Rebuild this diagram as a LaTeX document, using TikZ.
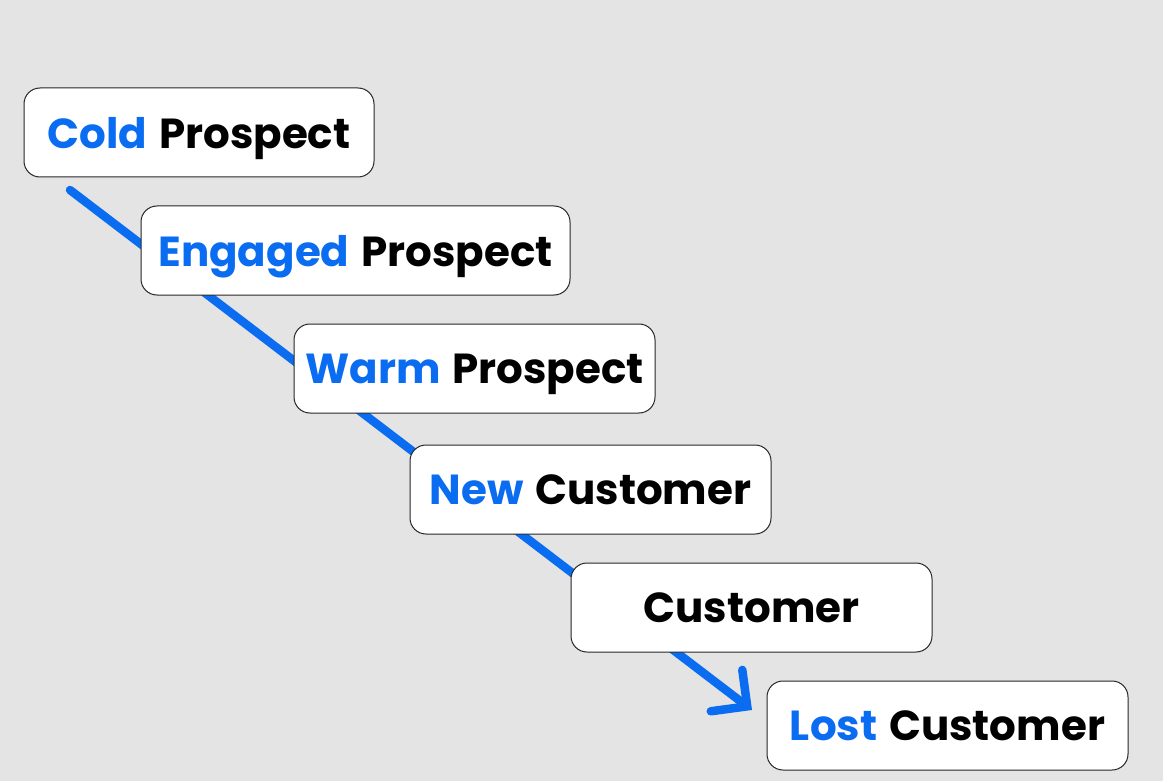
\documentclass[tikz,border=0pt]{standalone}
\usepackage{fontspec}
\setmainfont{Poppins}
\usetikzlibrary{arrows.meta}
\definecolor{bg}{HTML}{E4E4E4}
\definecolor{blu}{HTML}{0A6CF0}
\begin{document}
\begin{tikzpicture}[x=1pt,y=-1pt,
  box/.style={draw=black!85,line width=1pt,fill=white,rounded corners=16pt,minimum width=360pt,minimum height=89pt,inner sep=0pt,text depth=0pt,font=\fontsize{42}{44}\selectfont\bfseries}]
\fill[bg] (0,0) rectangle (1163,781);
\useasboundingbox (0,0) rectangle (1163,781);
\coordinate (s) at (70,190);
\coordinate (e) at (752,710);
\draw[blu,line width=8.5pt,line cap=round,-{Straight Barb[length=26pt,width=52pt,line cap=round]}] (s) -- (e);
\node[box,minimum width=350pt] (a) at (199,132.5) {\textcolor{blu}{Cold}\hspace{3pt} Prospect};
\node[box,minimum width=429pt] (b) at (355.5,250.5) {\textcolor{blu}{Engaged}\hspace{3pt} Prospect};
\node[box,minimum width=361pt] (c) at (474.5,368.5) {\textcolor{blu}{Warm}\hspace{3pt} Prospect};
\node[box,minimum width=361pt] (d) at (590.5,489.5) {\textcolor{blu}{New}\hspace{3pt} Customer};
\node[box,minimum width=361pt] (f) at (751.5,607.5) {Customer};
\node[box,minimum width=361pt] (g) at (947.5,725.5) {\textcolor{blu}{Lost}\hspace{3pt} Customer};
\end{tikzpicture}
\end{document}
